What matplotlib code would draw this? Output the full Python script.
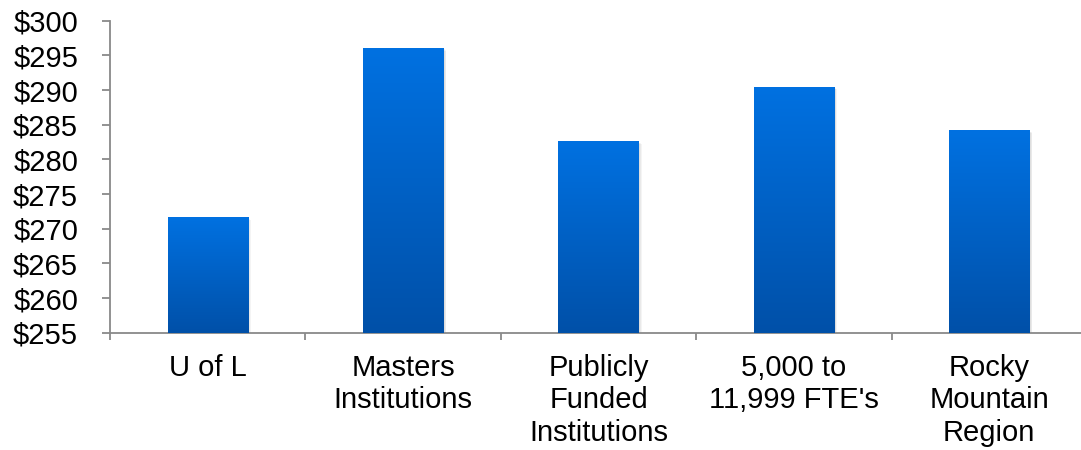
import numpy as np
import matplotlib
matplotlib.use("Agg")
import matplotlib.pyplot as plt
from matplotlib.patches import Rectangle
from matplotlib.colors import LinearSegmentedColormap
from matplotlib.ticker import FuncFormatter, MultipleLocator

categories = ["U of L", "Masters\nInstitutions", "Publicly\nFunded\nInstitutions",
              "5,000 to\n11,999 FTE's", "Rocky\nMountain\nRegion"]
values = [271.7, 296.1, 282.6, 290.5, 284.2]
y_min, y_max, y_step = 255, 300, 5

plt.rcParams["font.family"] = ["Liberation Sans", "DejaVu Sans"]

fig = plt.figure(figsize=(10.81, 4.5), dpi=100)
ax = fig.add_axes([110 / 1081, 117.3 / 450, 977 / 1081, 312 / 450])

x = np.arange(len(categories))
bar_w = 0.41
bars = ax.bar(x, [v - y_min for v in values], bottom=y_min, width=bar_w,
              color="none", edgecolor="none", zorder=3)

grad_cmap = LinearSegmentedColormap.from_list("bar_grad", ["#0050A8", "#0071E1"])
grad = np.linspace(0, 1, 256).reshape(-1, 1)

for b in bars:
    x0, y0 = b.get_x(), b.get_y()
    w, h = b.get_width(), b.get_height()
    # soft drop shadow to the right / below
    for i in range(4):
        off = 0.004 * (i + 1)
        ax.add_patch(Rectangle((x0 + off, y0 - 0.1 * (i + 1)), w, h,
                               facecolor="black", alpha=0.045, edgecolor="none",
                               zorder=2, clip_on=True))
    im = ax.imshow(grad, cmap=grad_cmap, origin="lower", aspect="auto",
                   extent=[x0, x0 + w, y0, y0 + h], zorder=3,
                   interpolation="bilinear")
    im.set_clip_path(b)

ax.set_xlim(-0.5, len(categories) - 0.5)
ax.set_ylim(y_min, y_max)

ax.yaxis.set_major_locator(MultipleLocator(y_step))
ax.yaxis.set_major_formatter(FuncFormatter(lambda v, p: f"${v:.0f}"))
ax.set_xticks(np.arange(len(categories) + 1) - 0.5)
ax.set_xticklabels([])
ax.set_xticks(x, minor=True)
ax.set_xticklabels(categories, minor=True, fontsize=21, linespacing=1.22)

axis_color = "#898989"
for s in ["top", "right"]:
    ax.spines[s].set_visible(False)
for s in ["left", "bottom"]:
    ax.spines[s].set_color(axis_color)
    ax.spines[s].set_linewidth(1.3)

ax.tick_params(axis="y", which="major", direction="out", length=6, width=1.3,
               color=axis_color, labelsize=21, pad=17, labelcolor="black")
ax.tick_params(axis="x", which="major", direction="out", length=5, width=1.3,
               color=axis_color)
ax.tick_params(axis="x", which="minor", length=0, pad=15, labelcolor="black")
for lbl in ax.get_xticklabels(minor=True):
    lbl.set_verticalalignment("top")

fig.savefig("out.png", dpi=100, facecolor="white")
